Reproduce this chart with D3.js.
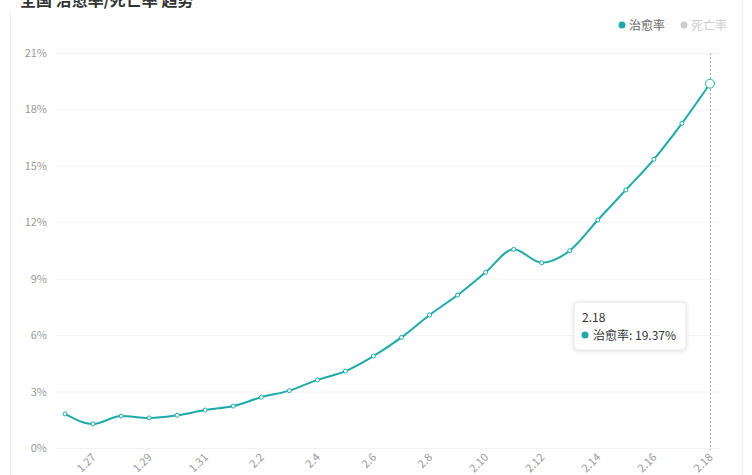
<!DOCTYPE html>
<html><head><meta charset="utf-8">
<script src="https://cdn.jsdelivr.net/npm/d3@7/dist/d3.min.js"></script>
<style>
html,body{margin:0;padding:0;background:#fff;}
svg{display:block;font-family:"Microsoft YaHei","Noto Sans CJK SC","Noto Sans",sans-serif;}
</style></head>
<body>
<svg id="chart" width="752" height="475"></svg>
<script>
const dates = ["1.26","1.27","1.28","1.29","1.30","1.31","2.1","2.2","2.3","2.4","2.5","2.6","2.7","2.8","2.9","2.10","2.11","2.12","2.13","2.14","2.15","2.16","2.17","2.18"];
const cureRate = [1.81,1.28,1.70,1.60,1.74,2.02,2.23,2.70,3.05,3.62,4.09,4.89,5.88,7.07,8.13,9.34,10.56,9.85,10.49,12.12,13.72,15.35,17.26,19.37];
const yTicks = [0,3,6,9,12,15,18,21];
const xTickLabels = dates.filter((d,i)=>i%2===1);
const seriesNames = ["治愈率","死亡率"];
const title = "全国 治愈率/死亡率 趋势";

const svg = d3.select("#chart");
const teal = "#1fa9a9";
const mLeft = 55, mRight = 720, mTop = 53, mBottom = 448;

const x = d3.scalePoint().domain(dates).range([mLeft,mRight]).padding(0.357);
const y = d3.scaleLinear().domain([0,21]).range([mBottom,mTop]);

// card borders
svg.append("line").attr("x1",10.5).attr("x2",10.5).attr("y1",12).attr("y2",475).attr("stroke","#eeeeee");
svg.append("line").attr("x1",742.5).attr("x2",742.5).attr("y1",0).attr("y2",475).attr("stroke","#eeeeee");

// title
svg.append("text").attr("x",20).attr("y",6).attr("font-size",16).attr("font-weight","bold")
  .attr("fill","#333").text(title);

// legend
const lg = svg.append("g");
lg.append("circle").attr("cx",622).attr("cy",25).attr("r",3.5).attr("fill",teal);
lg.append("text").attr("x",629).attr("y",29.5).attr("font-size",12).attr("fill","#666").text(seriesNames[0]);
lg.append("circle").attr("cx",684).attr("cy",25).attr("r",3.5).attr("fill","#cccccc");
lg.append("text").attr("x",691).attr("y",29.5).attr("font-size",12).attr("fill","#cccccc").text(seriesNames[1]);

// y axis grid + labels
const yAxis = d3.axisLeft(y).tickValues(yTicks).tickSize(-(mRight-mLeft)).tickPadding(8).tickFormat(d=>d+"%");
const gy = svg.append("g").attr("transform",`translate(${mLeft},0)`).call(yAxis);
gy.select(".domain").remove();
gy.selectAll(".tick line").attr("stroke","#f2f2f2");
gy.selectAll(".tick text").attr("fill","#999").attr("font-size",11).attr("font-family","'Microsoft YaHei','Noto Sans CJK SC',sans-serif");

// x axis labels
const xAxis = d3.axisBottom(x).tickValues(xTickLabels).tickSize(0).tickPadding(0);
const gx = svg.append("g").attr("transform",`translate(0,${mBottom})`).call(xAxis);
gx.select(".domain").remove();
gx.selectAll(".tick text").attr("fill","#999").attr("font-size",11)
  .attr("font-family","'Microsoft YaHei','Noto Sans CJK SC',sans-serif")
  .attr("text-anchor","end").attr("dy",0)
  .attr("transform","translate(3,10) rotate(-45)");

// axis pointer
const last = dates.length-1;
svg.append("line").attr("x1",x(dates[last])+0.5).attr("x2",x(dates[last])+0.5)
  .attr("y1",mTop).attr("y2",mBottom+2).attr("stroke","#aaa").attr("stroke-dasharray","2,2");

// line
const line = d3.line().x((d,i)=>x(dates[i])).y(d=>y(d)).curve(d3.curveMonotoneX);
svg.append("path").datum(cureRate).attr("d",line).attr("fill","none").attr("stroke",teal).attr("stroke-width",2);

// points
svg.selectAll("circle.pt").data(cureRate).enter().append("circle").attr("class","pt")
  .attr("cx",(d,i)=>x(dates[i])).attr("cy",d=>y(d))
  .attr("r",(d,i)=>i===last?4.5:2).attr("fill","#fff").attr("stroke",teal).attr("stroke-width",1);

// tooltip
const tx = 574, ty = 302;
const tip = svg.append("g").attr("transform",`translate(${tx},${ty})`);
const defs = svg.append("defs");
const f = defs.append("filter").attr("id","sh").attr("x","-20%").attr("y","-20%").attr("width","140%").attr("height","140%");
f.append("feDropShadow").attr("dx",0).attr("dy",1).attr("stdDeviation",2).attr("flood-color","#000").attr("flood-opacity",0.12);
tip.append("rect").attr("width",112).attr("height",48).attr("rx",4).attr("fill","#fff").attr("stroke","#e6e6e6").attr("filter","url(#sh)");
tip.append("text").attr("x",8).attr("y",20).attr("font-size",12).attr("fill","#333").text(dates[last]);
tip.append("circle").attr("cx",11).attr("cy",33).attr("r",3.5).attr("fill",teal);
tip.append("text").attr("x",19).attr("y",37.5).attr("font-size",12).attr("fill","#333").text(seriesNames[0]+": "+cureRate[last].toFixed(2)+"%");
</script>
</body></html>
